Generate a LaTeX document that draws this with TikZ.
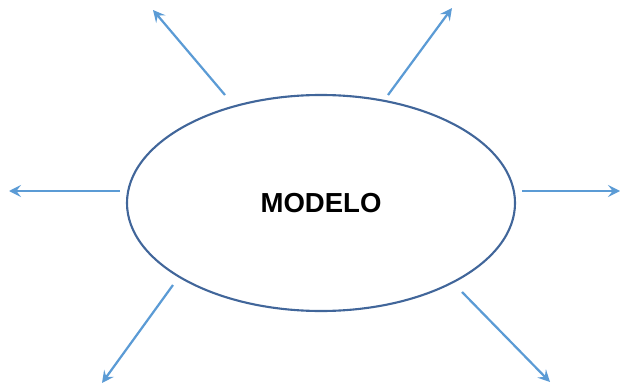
\documentclass[tikz,border=0pt]{standalone}
\usepackage{fontspec}
\setmainfont{Liberation Sans}
\usetikzlibrary{shapes.geometric,arrows.meta}
\definecolor{rimblue}{HTML}{41669A}
\definecolor{rayblue}{HTML}{5B9BD5}
\begin{document}
\begin{tikzpicture}[x=0.03cm,y=0.03cm,
  core/.style={ellipse, draw=rimblue, line width=1.8pt, minimum width=11.64cm, minimum height=6.48cm, inner sep=0pt,
    font=\fontsize{23.5}{26}\selectfont\bfseries},
  ray/.style={draw=rayblue, line width=1.9pt, -{Stealth[length=3.6mm,width=3.6mm,inset=1.4mm]}}
]
\useasboundingbox (0,0) rectangle (621,386);
\node[core] (model) at (321,183) {MODELO};
% start and end points of the rays
\coordinate (s1) at (225,291); \coordinate (e1) at (153,376);
\coordinate (s2) at (388,291); \coordinate (e2) at (452,378);
\coordinate (s3) at (120,195); \coordinate (e3) at (9,195);
\coordinate (s4) at (522,195); \coordinate (e4) at (620,195);
\coordinate (s5) at (173,101); \coordinate (e5) at (102,3);
\coordinate (s6) at (462,94);  \coordinate (e6) at (550,4);
\foreach \i in {1,...,6}
  \draw[ray] (s\i) -- (e\i);
\end{tikzpicture}
\end{document}
